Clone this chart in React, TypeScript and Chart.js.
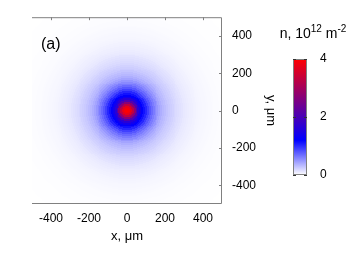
import React, { useEffect, useRef } from 'react';
import { Chart, registerables } from 'chart.js';
Chart.register(...registerables);

// ---- data ----
const X_RANGE = [-500, 500];
const Y_RANGE = [-500, 500];
const X_TICKS = [-400, -200, 0, 200, 400];
const Y_TICKS = [-400, -200, 0, 200, 400];
const CB_RANGE = [0, 4];
const CB_TICKS = [0, 2, 4];
const GRID_STEP = 5; // μm, heatmap cell size
// radial density profile n(r), 10^12 m^-2
const PROFILE_R = [
  0, 10, 20, 30, 40, 50, 60, 70, 80, 90,
  100, 110, 120, 130, 140, 150, 160, 170, 180, 190,
  200, 210, 220, 230, 240, 250, 260, 270, 280, 290,
  300, 310, 320, 330, 340, 350, 360, 370, 380, 390,
  400, 410, 420, 430, 440, 450, 460, 470, 480, 490,
  500, 510, 520, 530, 540, 550, 560, 570, 580, 590,
  600, 610, 620, 630, 640, 650, 660, 670, 680, 690,
  700, 710,
];
const PROFILE_N = [
  4.0, 3.95, 3.75, 3.3, 2.7, 2.1, 1.65, 1.4, 1.22, 1.12,
  1.02, 0.9, 0.79, 0.7, 0.62, 0.55, 0.49, 0.43, 0.38, 0.34,
  0.31, 0.28, 0.25, 0.23, 0.21, 0.19, 0.17, 0.155, 0.14, 0.125,
  0.11, 0.1, 0.09, 0.082, 0.074, 0.067, 0.06, 0.054, 0.049, 0.044,
  0.04, 0.036, 0.032, 0.029, 0.026, 0.023, 0.021, 0.019, 0.017, 0.015,
  0.014, 0.012, 0.011, 0.01, 0.009, 0.008, 0.0072, 0.0065, 0.0058, 0.0052,
  0.0046, 0.0041, 0.0036, 0.0032, 0.0028, 0.0025, 0.0022, 0.002, 0.0018, 0.0016,
  0.0014, 0.0012,
];
const PALETTE_VALUES = [0, 1.2, 4];
const PALETTE_COLORS = [
  [255, 255, 255],
  [0, 0, 255],
  [255, 0, 0],
];

const FONT = 'Liberation Sans, Arial, sans-serif';
const FRAME = '#808080';

function profileAt(r: number): number {
  let best = 0;
  let bd = Infinity;
  for (let k = 0; k < PROFILE_R.length; k++) {
    const d = Math.abs(PROFILE_R[k] - r);
    if (d < bd) { bd = d; best = k; }
  }
  return PROFILE_N[best];
}

function colorFor(v: number): string {
  const vs = PALETTE_VALUES;
  if (v <= vs[0]) return `rgb(${PALETTE_COLORS[0].join(',')})`;
  for (let k = 1; k < vs.length; k++) {
    if (v <= vs[k]) {
      const t = (v - vs[k - 1]) / (vs[k] - vs[k - 1]);
      const a = PALETTE_COLORS[k - 1], b = PALETTE_COLORS[k];
      const c = a.map((ai, i) => Math.round(ai + (b[i] - ai) * t));
      return `rgb(${c.join(',')})`;
    }
  }
  return `rgb(${PALETTE_COLORS[PALETTE_COLORS.length - 1].join(',')})`;
}

const heatmapPlugin = {
  id: 'heatmap',
  beforeDatasetsDraw(chart: any) {
    const { ctx, scales } = chart;
    const xs = scales.x, ys = scales.y;
    ctx.save();
    for (let xa = X_RANGE[0]; xa < X_RANGE[1]; xa += GRID_STEP) {
      const xb = xa + GRID_STEP;
      const px0 = Math.round(xs.getPixelForValue(xa));
      const px1 = Math.round(xs.getPixelForValue(xb));
      if (px1 <= px0) continue;
      for (let ya = Y_RANGE[0]; ya < Y_RANGE[1]; ya += GRID_STEP) {
        const yb = ya + GRID_STEP;
        const py0 = Math.round(ys.getPixelForValue(yb));
        const py1 = Math.round(ys.getPixelForValue(ya));
        if (py1 <= py0) continue;
        const cx = (xa + xb) / 2, cy = (ya + yb) / 2;
        const v = profileAt(Math.sqrt(cx * cx + cy * cy));
        ctx.fillStyle = colorFor(v);
        ctx.fillRect(px0, py0, px1 - px0, py1 - py0);
      }
    }
    ctx.restore();
  },
  afterDatasetsDraw(chart: any) {
    const { ctx, chartArea: a, scales } = chart;
    ctx.save();
    ctx.strokeStyle = FRAME;
    ctx.lineWidth = 1;
    ctx.beginPath();
    ctx.moveTo(a.left, a.top + 0.5);
    ctx.lineTo(a.right - 0.5, a.top + 0.5);
    ctx.lineTo(a.right - 0.5, a.bottom - 0.5);
    ctx.lineTo(a.left, a.bottom - 0.5);
    for (const v of X_TICKS) {
      const x = Math.round(scales.x.getPixelForValue(v)) + 0.5;
      ctx.moveTo(x, a.top);
      ctx.lineTo(x, a.top + 3);
    }
    for (const v of Y_TICKS) {
      const y = Math.round(scales.y.getPixelForValue(v)) + 0.5;
      ctx.moveTo(a.right, y);
      ctx.lineTo(a.right - 3, y);
    }
    ctx.stroke();
    ctx.fillStyle = '#000';
    ctx.font = `16px ${FONT}`;
    ctx.textBaseline = 'middle';
    ctx.textAlign = 'left';
    ctx.fillText('(a)', a.left + 9, a.top + 27);
    ctx.restore();
  },
};

const colorbarPlugin = {
  id: 'colorbar',
  beforeDatasetsDraw(chart: any) {
    const { ctx, chartArea: a, scales } = chart;
    const ys = scales.y;
    const y0 = ys.getPixelForValue(CB_RANGE[0]);
    const y1 = ys.getPixelForValue(CB_RANGE[1]);
    const g = ctx.createLinearGradient(0, y0, 0, y1);
    PALETTE_VALUES.forEach((v, k) => {
      g.addColorStop((v - CB_RANGE[0]) / (CB_RANGE[1] - CB_RANGE[0]), `rgb(${PALETTE_COLORS[k].join(',')})`);
    });
    ctx.save();
    ctx.fillStyle = g;
    ctx.fillRect(a.left, a.top, a.right - a.left, a.bottom - a.top);
    ctx.strokeStyle = FRAME;
    ctx.lineWidth = 1;
    ctx.strokeRect(a.left + 0.5, a.top + 0.5, a.right - a.left - 1, a.bottom - a.top - 1);
    ctx.strokeStyle = '#333';
    ctx.beginPath();
    for (const v of CB_TICKS) {
      const y = Math.round(ys.getPixelForValue(v)) + 0.5;
      ctx.moveTo(a.left, y);
      ctx.lineTo(a.left + 3, y);
      ctx.moveTo(a.right, y);
      ctx.lineTo(a.right - 3, y);
    }
    ctx.stroke();
    // title n, 10^12 m^-2
    const parts: [string, boolean][] = [['n, 10', false], ['12', true], [' m', false], ['-2', true]];
    const mainF = `14px ${FONT}`, supF = `10px ${FONT}`;
    let w = 0;
    for (const [t, sup] of parts) { ctx.font = sup ? supF : mainF; w += ctx.measureText(t).width; }
    let x = (a.left + a.right) / 2 + 13 - w / 2;
    const base = a.top - 21;
    ctx.fillStyle = '#000';
    ctx.textBaseline = 'alphabetic';
    ctx.textAlign = 'left';
    for (const [t, sup] of parts) {
      ctx.font = sup ? supF : mainF;
      ctx.fillText(t, x, sup ? base - 6 : base);
      x += ctx.measureText(t).width;
    }
    ctx.restore();
  },
};

export default function App() {
  const mainRef = useRef<HTMLCanvasElement>(null);
  const cbRef = useRef<HTMLCanvasElement>(null);

  useEffect(() => {
    document.body.style.margin = '0';
    const font = { family: FONT, size: 12 };
    const tfont = { family: FONT, size: 13 };
    const main = new Chart(mainRef.current!, {
      type: 'scatter',
      data: { datasets: [{ data: [], pointRadius: 0 }] },
      options: {
        animation: false,
        responsive: false,
        maintainAspectRatio: false,
        layout: { padding: { left: 32, top: 14, right: 76, bottom: 10 } },
        plugins: { legend: { display: false }, tooltip: { enabled: false } },
        scales: {
          x: {
            type: 'linear',
            position: 'bottom',
            min: X_RANGE[0],
            max: X_RANGE[1],
            afterBuildTicks: (s: any) => { s.ticks = X_TICKS.map((v) => ({ value: v })); },
            afterFit: (s: any) => { s.height = 40; },
            grid: { display: false, drawTicks: false },
            border: { display: false },
            ticks: { padding: 7, font, color: '#000', maxRotation: 0, autoSkip: false },
            title: { display: true, text: 'x, μm', font: tfont, color: '#000', padding: 0 },
          },
          y: {
            type: 'linear',
            position: 'right',
            min: Y_RANGE[0],
            max: Y_RANGE[1],
            afterBuildTicks: (s: any) => { s.ticks = Y_TICKS.map((v) => ({ value: v })); },
            afterFit: (s: any) => { s.width = 56; },
            grid: { display: false, drawTicks: false },
            border: { display: false },
            ticks: { padding: 10, font, color: '#000', autoSkip: false },
            title: { display: true, text: 'y, μm', font: tfont, color: '#000', padding: 0 },
          },
        },
      },
      plugins: [heatmapPlugin],
    });
    const cb = new Chart(cbRef.current!, {
      type: 'scatter',
      data: { datasets: [{ data: [], pointRadius: 0 }] },
      options: {
        animation: false,
        responsive: false,
        maintainAspectRatio: false,
        layout: { padding: { left: 33, top: 59, right: 0, bottom: 25 } },
        plugins: { legend: { display: false }, tooltip: { enabled: false } },
        scales: {
          x: { display: false, min: 0, max: 1 },
          y: {
            type: 'linear',
            position: 'right',
            min: CB_RANGE[0],
            max: CB_RANGE[1],
            afterBuildTicks: (s: any) => { s.ticks = CB_TICKS.map((v) => ({ value: v })); },
            afterFit: (s: any) => { s.width = 47; },
            grid: { display: false, drawTicks: false },
            border: { display: false },
            ticks: { padding: 13, font, color: '#000', autoSkip: false },
          },
        },
      },
      plugins: [colorbarPlugin],
    });
    return () => { main.destroy(); cb.destroy(); };
  }, []);

  return (
    <div style={{ position: 'relative', width: 354, height: 254, background: '#fff' }}>
      <canvas ref={mainRef} width={354} height={254} style={{ position: 'absolute', left: 0, top: 0 }} />
      <canvas ref={cbRef} width={94} height={200} style={{ position: 'absolute', left: 260, top: 0 }} />
    </div>
  );
}
